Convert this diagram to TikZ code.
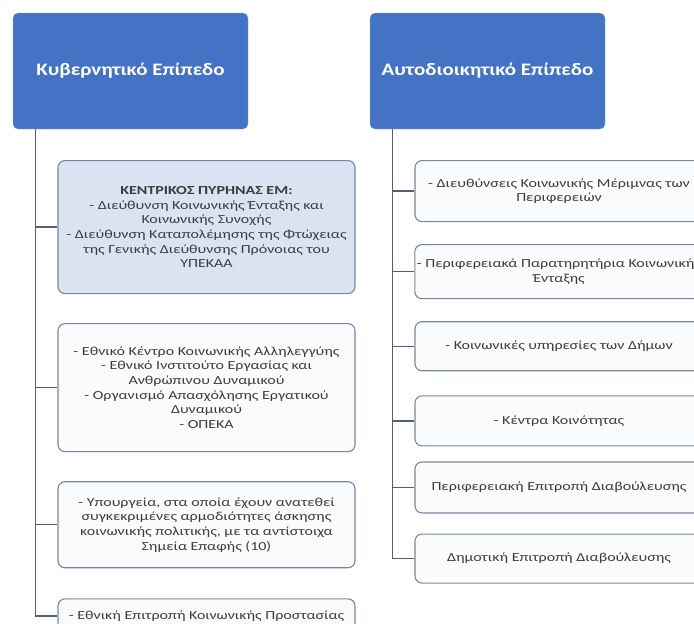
\documentclass[tikz,border=0pt]{standalone}
\usepackage{fontspec}
\setmainfont{Carlito}
\newfontfamily\unitfont[FakeStretch=1.30]{Carlito}
\newfontfamily\levelfont[FakeStretch=1.2]{Carlito}
\usepackage{tikz}
\usetikzlibrary{positioning}
\definecolor{lvlblue}{RGB}{68,114,196}
\definecolor{corefill}{RGB}{218,227,242}
\definecolor{boxedge}{RGB}{120,134,165}
\definecolor{boxfill}{RGB}{250,251,253}
\definecolor{linegray}{RGB}{85,95,115}
\definecolor{textgray}{RGB}{60,60,60}
\tikzstyle{branch} = [line width=1.3pt, color=linegray]
\tikzstyle{levelbox} = [rectangle, rounded corners=5pt, minimum width=235pt, minimum height=116pt, text centered, draw=lvlblue!55!white, fill=lvlblue, text=white, font=\levelfont\bfseries\fontsize{17.5}{20}\selectfont]
\tikzstyle{unitbox} = [rectangle, rounded corners=7pt, minimum width=297pt, align=center, draw=boxedge, fill=boxfill, line width=1.1pt, text=textgray, inner sep=2pt, font=\unitfont\fontsize{12.3}{14.7}\selectfont]

\begin{document}
\begin{tikzpicture}[x=1pt, y=-1pt]
\useasboundingbox (0,0) rectangle (694,624);
\clip (0,0) rectangle (694,624);
% Levels
\node[levelbox] (kyv) at (130.5,71) {Κυβερνητικό Επίπεδο};
\node[levelbox] (aut) at (487.5,71) {Αυτοδιοικητικό Επίπεδο};

% Central government
\node[unitbox, fill=corefill, minimum height=133pt, anchor=north] (core) at (206.5,160) {\textbf{ΚΕΝΤΡΙΚΟΣ ΠΥΡΗΝΑΣ ΕΜ:}\\ - Διεύθυνση Κοινωνικής Ένταξης και\\ Κοινωνικής Συνοχής\\ - Διεύθυνση Καταπολέμησης της Φτώχειας\\ της Γενικής Διεύθυνσης Πρόνοιας του\\ ΥΠΕΚΑΑ};
\node[unitbox, minimum height=128pt, below=29pt of core] (bodies) {- Εθνικό Κέντρο Κοινωνικής Αλληλεγγύης\\ - Εθνικό Ινστιτούτο Εργασίας και\\ Ανθρώπινου Δυναμικού\\ - Οργανισμό Απασχόλησης Εργατικού\\ Δυναμικού\\ - ΟΠΕΚΑ};
\node[unitbox, minimum height=86pt, below=29pt of bodies] (minist) {- Υπουργεία, στα οποία έχουν ανατεθεί\\ συγκεκριμένες αρμοδιότητες άσκησης\\ κοινωνικής πολιτικής, με τα αντίστοιχα\\ Σημεία Επαφής (10)};
\node[unitbox, minimum height=34pt, below=30pt of minist] (natcom) {- Εθνική Επιτροπή Κοινωνικής Προστασίας};

% Local government
\node[unitbox, minimum width=288pt, minimum height=61pt, anchor=north] (regdir) at (559,160) {- Διευθύνσεις Κοινωνικής Μέριμνας των\\ Περιφερειών};
\node[unitbox, minimum width=288pt, minimum height=54pt, below=22pt of regdir] (regobs) {- Περιφερειακά Παρατηρητήρια Κοινωνικής\\ Ένταξης};
\node[unitbox, minimum width=288pt, minimum height=49pt, below=22pt of regobs] (munsrv) {- Κοινωνικές υπηρεσίες των Δήμων};
\node[unitbox, minimum width=288pt, minimum height=50pt, below=24pt of munsrv] (comctr) {- Κέντρα Κοινότητας};
\node[unitbox, minimum width=288pt, minimum height=51pt, below=15pt of comctr] (regcons) {Περιφερειακή Επιτροπή Διαβούλευσης};
\node[unitbox, minimum width=288pt, minimum height=49pt, below=20pt of regcons] (muncons) {Δημοτική Επιτροπή Διαβούλευσης};

\draw[branch] ([xshift=23pt]kyv.south west) |- (core.west);
\draw[branch] ([xshift=23pt]kyv.south west) |- (bodies.west);
\draw[branch] ([xshift=23pt]kyv.south west) |- (minist.west);
\draw[branch] ([xshift=23pt]kyv.south west) |- (natcom.west);
\draw[branch] ([xshift=23pt]aut.south west) |- (regdir.west);
\draw[branch] ([xshift=23pt]aut.south west) |- (regobs.west);
\draw[branch] ([xshift=23pt]aut.south west) |- (munsrv.west);
\draw[branch] ([xshift=23pt]aut.south west) |- (comctr.west);
\draw[branch] ([xshift=23pt]aut.south west) |- (regcons.west);
\draw[branch] ([xshift=23pt]aut.south west) |- (muncons.west);
\end{tikzpicture}
\end{document}
